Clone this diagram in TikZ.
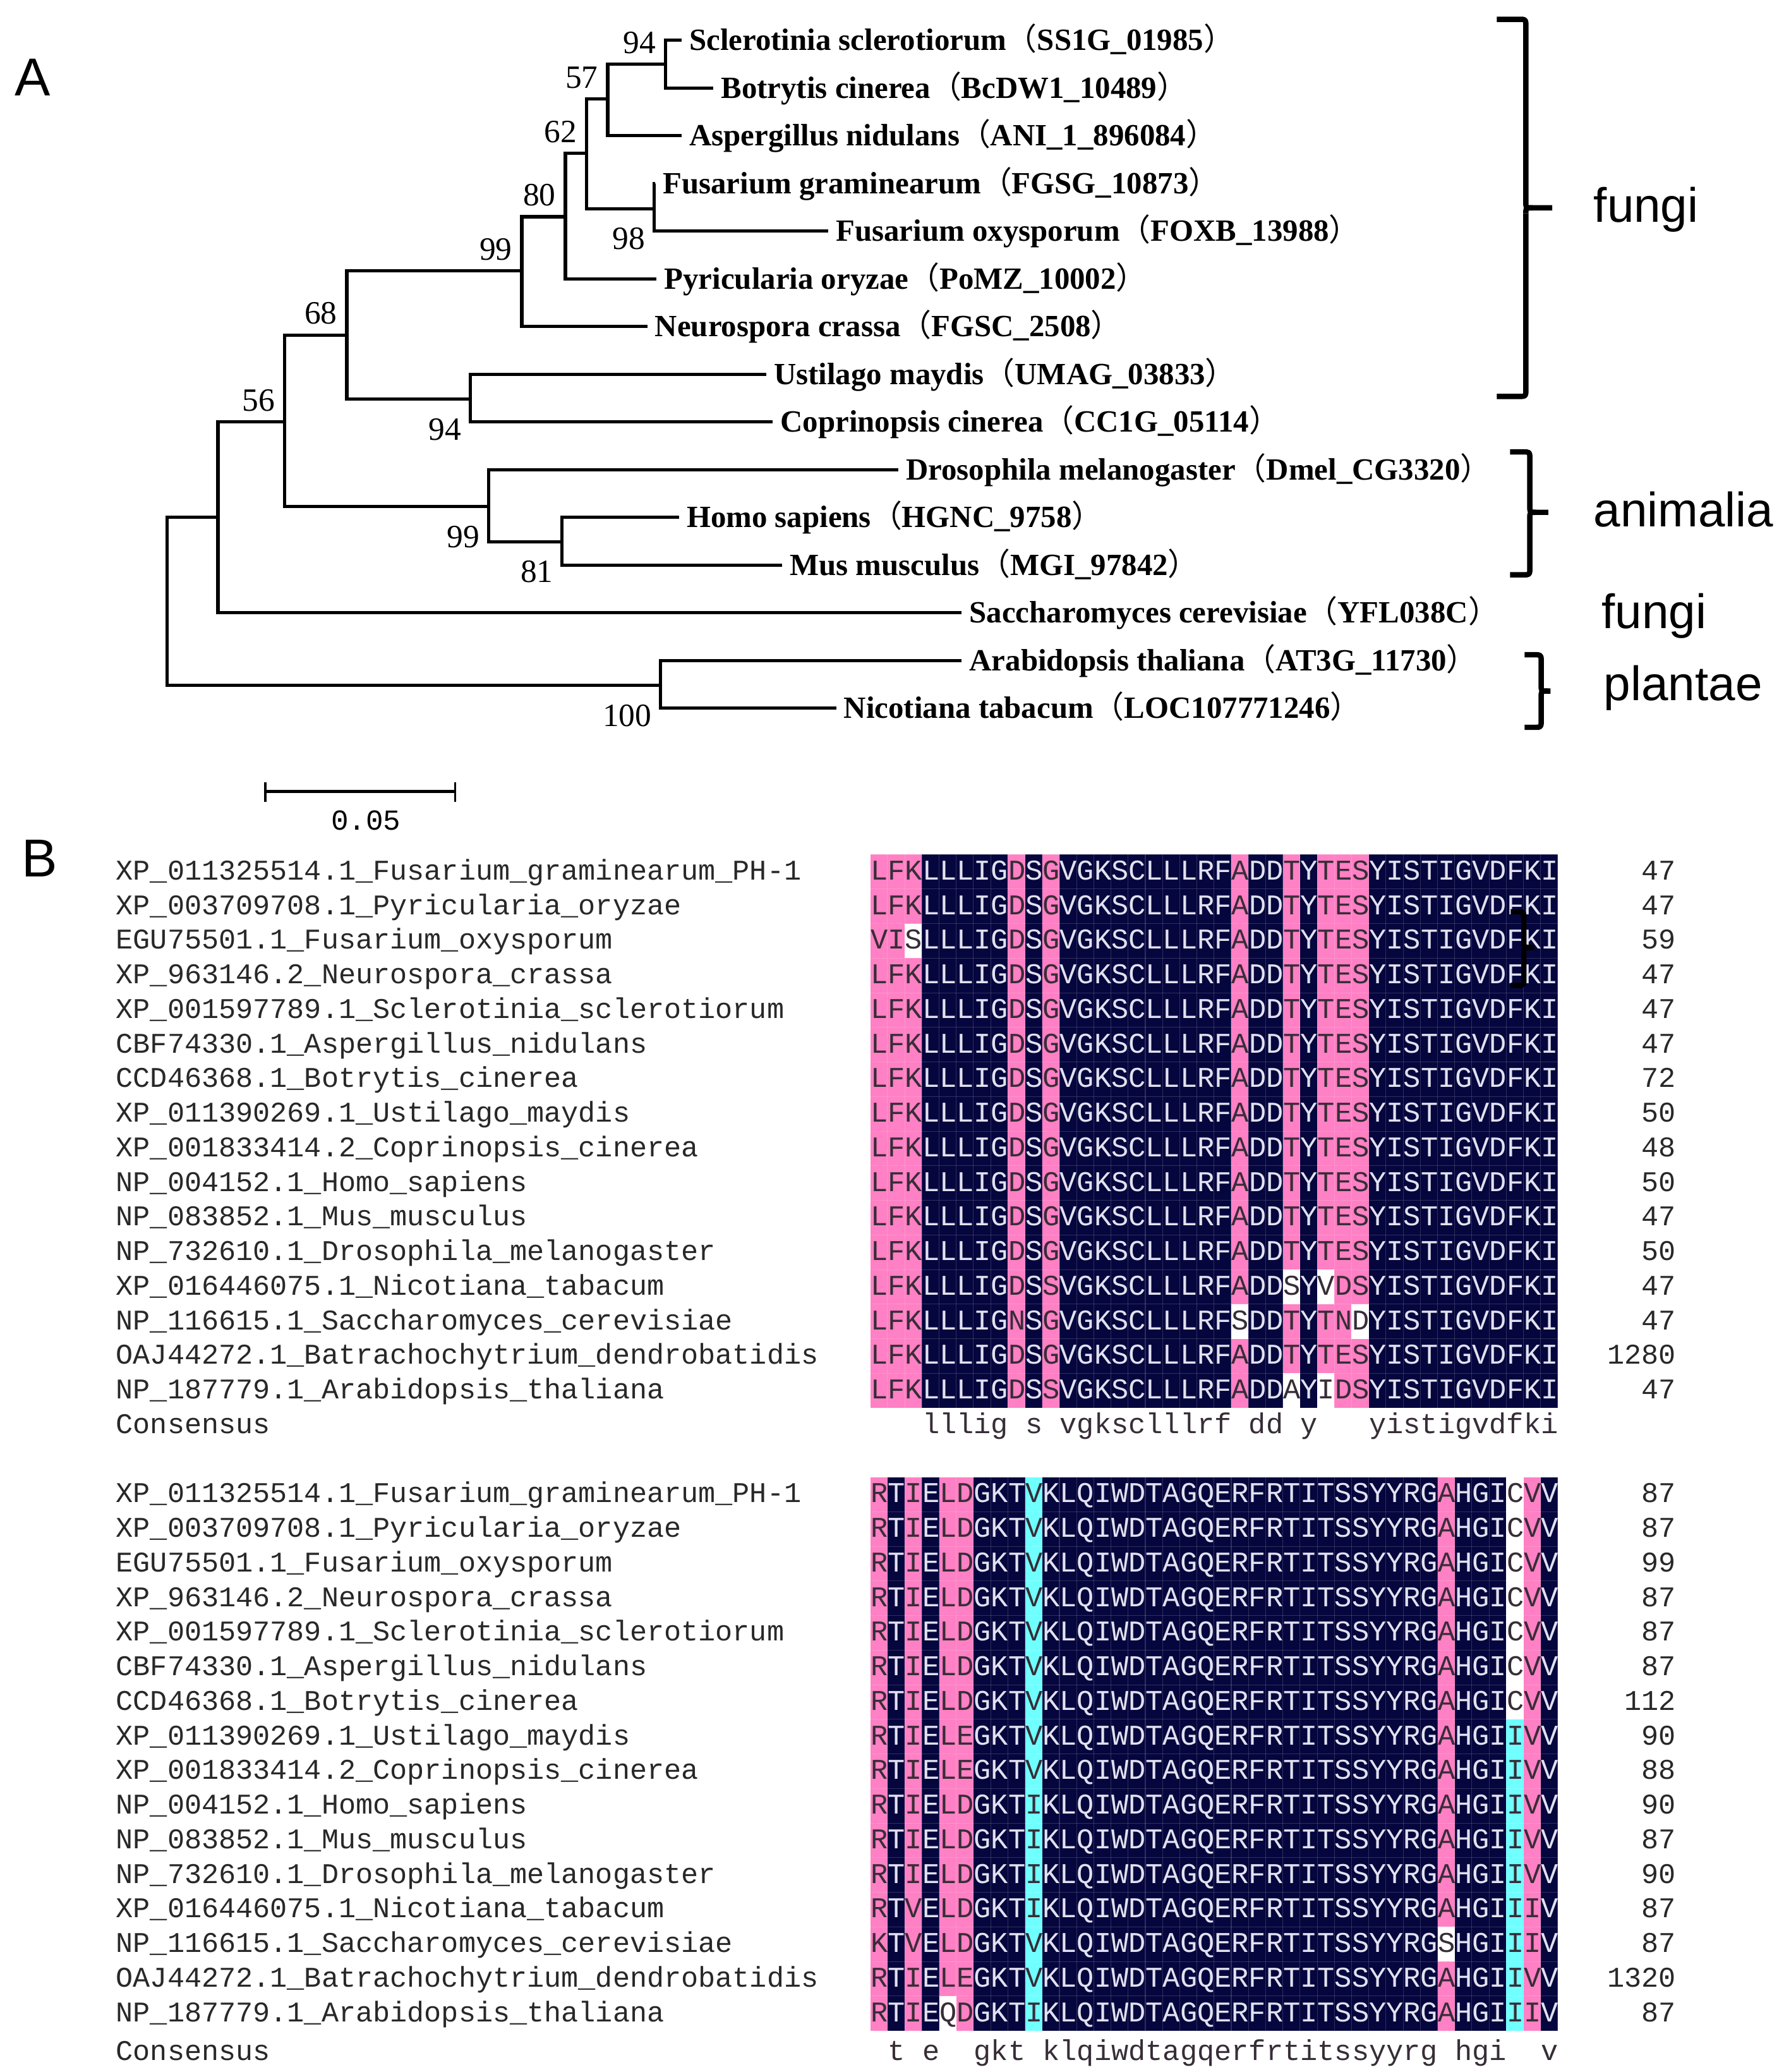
\documentclass[tikz,border=0pt]{standalone}
\usepackage{fontspec}
\setmainfont{Liberation Serif}
\newfontfamily\alfont{Liberation Mono}
\newfontfamily\grpfont{Liberation Sans}
\newfontfamily\cjk{Noto Sans CJK SC}
\definecolor{navybg}{RGB}{6,6,62}
\definecolor{pinkbg}{RGB}{255,128,196}
\definecolor{cyanbg}{RGB}{112,255,255}
\definecolor{inkdk}{RGB}{55,45,55}
\definecolor{inklt}{RGB}{225,225,240}
\definecolor{inkname}{RGB}{40,40,40}
\newcommand\lp{{\cjk\mdseries （}}
\newcommand\rp{{\cjk\mdseries ）}}
\newcommand\pk[1]{\textcolor{inkdk}{#1}}
\newcommand\nv[1]{\textcolor{inklt}{#1}}
\newcommand\sqA{\pk{LFK}\nv{LLLIG}\pk{D}\nv{S}\pk{G}\nv{VGKSCLLLRF}\pk{A}\nv{DD}\pk{T}\nv{Y}\pk{TES}\nv{YISTIGVDFKI}}
\newcommand\sqAfox{\pk{VIS}\nv{LLLIG}\pk{D}\nv{S}\pk{G}\nv{VGKSCLLLRF}\pk{A}\nv{DD}\pk{T}\nv{Y}\pk{TES}\nv{YISTIGVDFKI}}
\newcommand\sqAnic{\pk{LFK}\nv{LLLIG}\pk{D}\nv{S}\pk{S}\nv{VGKSCLLLRF}\pk{A}\nv{DD}\pk{S}\nv{Y}\pk{VDS}\nv{YISTIGVDFKI}}
\newcommand\sqAsac{\pk{LFK}\nv{LLLIG}\pk{N}\nv{S}\pk{G}\nv{VGKSCLLLRF}\pk{S}\nv{DD}\pk{T}\nv{Y}\pk{TND}\nv{YISTIGVDFKI}}
\newcommand\sqAara{\pk{LFK}\nv{LLLIG}\pk{D}\nv{S}\pk{S}\nv{VGKSCLLLRF}\pk{A}\nv{DD}\pk{A}\nv{Y}\pk{IDS}\nv{YISTIGVDFKI}}
\newcommand\mdB{\nv{KLQIWDTAGQERFRTITSSYYRG}}
\newcommand\sqB{\pk{R}\nv{T}\pk{I}\nv{E}\pk{LD}\nv{GKT}\pk{V}\mdB\pk{A}\nv{HGI}\pk{CV}\nv{V}}
\newcommand\sqBle{\pk{R}\nv{T}\pk{I}\nv{E}\pk{LE}\nv{GKT}\pk{V}\mdB\pk{A}\nv{HGI}\pk{IV}\nv{V}}
\newcommand\sqBan{\pk{R}\nv{T}\pk{I}\nv{E}\pk{LD}\nv{GKT}\pk{I}\mdB\pk{A}\nv{HGI}\pk{IV}\nv{V}}
\newcommand\sqBnic{\pk{R}\nv{T}\pk{V}\nv{E}\pk{LD}\nv{GKT}\pk{I}\mdB\pk{A}\nv{HGI}\pk{II}\nv{V}}
\newcommand\sqBsac{\pk{K}\nv{T}\pk{V}\nv{E}\pk{LD}\nv{GKT}\pk{V}\mdB\pk{S}\nv{HGI}\pk{II}\nv{V}}
\newcommand\sqBara{\pk{R}\nv{T}\pk{I}\nv{E}\pk{QD}\nv{GKT}\pk{I}\mdB\pk{A}\nv{HGI}\pk{II}\nv{V}}
\def\alx{658.8}
\def\cw{13.01}
\def\rh{26.18}
\def\topA{646.6}
\def\topB{1117.84}
\newcommand\band[6]{\fill[#1] ({\alx+\cw*(#2-1)},{#4+\rh*(#5-1)}) rectangle ({\alx+\cw*(#3)},{#4+\rh*(#6)});}
\newcommand\grpbrace[6]{\draw[brc] (#1,#4) -- ({#2-5},#4) .. controls (#2,#4) .. (#2,{#4+5}) -- (#2,{#5-4}) .. controls (#2,#5) .. ({#2+5},#5) -- (#3,#5);
  \draw[brc] (#2,{#5+4}) .. controls (#2,#5) .. ({#2+5},#5);
  \draw[brc] (#2,{#5+4}) -- (#2,{#6-5}) .. controls (#2,#6) .. ({#2-5},#6) -- (#1,#6);}
\begin{document}
\begin{tikzpicture}[x=0.02cm, y=-0.02cm,
  branch/.style={line width=1.4pt},
  leaf/.style={anchor=west, inner xsep=0.11cm, inner ysep=0pt, text height=8.8pt, text depth=0pt, font=\fontsize{13.3}{14}\selectfont\bfseries},
  boot/.style={inner sep=0pt, text height=9.4pt, text depth=0pt, font=\fontsize{14}{14}\selectfont},
  bsup/.style={boot, anchor=south east, xshift=-0.14cm, yshift=0.16cm},
  bsdn/.style={boot, anchor=north east, xshift=-0.13cm, yshift=-0.28cm},
  grp/.style={anchor=base west, inner sep=0pt, font=\grpfont\fontsize{20.8}{22}\selectfont},
  panel/.style={anchor=base west, inner sep=0pt, font=\grpfont\fontsize{23}{24}\selectfont},
  brc/.style={line width=2.3pt, line join=round},
  seqname/.style={anchor=west, inner sep=0pt, text height=7pt, text depth=0pt, text=inkname, font=\alfont\fontsize{12.3}{14}\selectfont},
  seqrow/.style={seqname, font=\alfont\fontsize{12.34}{14}\selectfont},
  seqlen/.style={seqname, anchor=east},
  gridln/.style={white, opacity=0.16, line width=0.3pt}]
\useasboundingbox (0,0) rectangle (1350,1568);

\node[panel] (pA) at (11,72.6) {A};
\node[panel] (pB) at (16,663.5) {B};

\coordinate (root) at (126.6,455);
\coordinate (nsa) at (165,391.4);
\coordinate (n56) at (215.5,319.3);
\coordinate (n68) at (262.5,253.5);
\coordinate (n99f) at (395,205);
\coordinate (n80) at (428,164);
\coordinate (n62) at (444,116);
\coordinate (n57) at (460,75);
\coordinate (n94f) at (503.6,48.7);
\coordinate (n98) at (495,158);
\coordinate (n94b) at (356,302);
\coordinate (n99a) at (370,383.3);
\coordinate (n81) at (425.5,410);
\coordinate (n100) at (500,518.7);

\node[leaf] (scl) at (516,30.5) {Sclerotinia sclerotiorum\lp SS1G\_01985\rp};
\node[leaf] (bot) at (540,66.6) {Botrytis cinerea\lp BcDW1\_10489\rp};
\node[leaf] (asp) at (516,102.7) {Aspergillus nidulans\lp ANI\_1\_896084\rp};
\node[leaf] (fgr) at (496,138.8) {Fusarium graminearum\lp FGSG\_10873\rp};
\node[leaf] (fox) at (627,174.9) {Fusarium oxysporum\lp FOXB\_13988\rp};
\node[leaf] (pyr) at (497,211) {Pyricularia oryzae\lp PoMZ\_10002\rp};
\node[leaf] (neu) at (490,247.1) {Neurospora crassa\lp FGSC\_2508\rp};
\node[leaf] (ust) at (580,283.2) {Ustilago maydis\lp UMAG\_03833\rp};
\node[leaf] (cop) at (585,319.3) {Coprinopsis cinerea\lp CC1G\_05114\rp};
\node[leaf] (dro) at (680,355.4) {Drosophila melanogaster\lp Dmel\_CG3320\rp};
\node[leaf] (hom) at (514,391.5) {Homo sapiens\lp HGNC\_9758\rp};
\node[leaf] (mus) at (592,427.6) {Mus musculus\lp MGI\_97842\rp};
\node[leaf] (sac) at (728,463.7) {Saccharomyces cerevisiae\lp YFL038C\rp};
\node[leaf] (ara) at (728,499.8) {Arabidopsis thaliana\lp AT3G\_11730\rp};
\node[leaf] (nic) at (633,535.9) {Nicotiana tabacum\lp LOC107771246\rp};

\foreach \p/\c in {root/nsa, root/n100, nsa/n56, nsa/sac, n56/n68, n56/n99a,
    n68/n99f, n68/n94b, n99f/n80, n99f/neu, n80/n62, n80/pyr, n62/n57, n62/n98,
    n57/n94f, n57/asp, n94f/scl, n94f/bot, n98/fgr, n98/fox, n94b/ust, n94b/cop,
    n99a/dro, n99a/n81, n81/hom, n81/mus, n100/ara, n100/nic}
  \draw[branch] (\p) |- (\c);

\node[bsup] (b94a) at (n94f) {94};
\node[bsup] (b57) at (n57) {57};
\node[bsup] (b62) at (n62) {62};
\node[bsup] (b80) at (n80) {80};
\node[bsup] (b99f) at (n99f) {99};
\node[bsup] (b68) at (n68) {68};
\node[bsup] (b56) at (n56) {56};
\node[bsdn] (b98) at (n98) {98};
\node[bsdn] (b94b) at (n94b) {94};
\node[bsdn] (b99a) at (n99a) {99};
\node[bsdn] (b81) at (n81) {81};
\node[bsdn] (b100) at (n100) {100};

\coordinate (sbl) at (200.7,598.8);
\coordinate (sbr) at (344.5,598.8);
\draw[branch] (sbl) -- (sbr);
\draw[line width=1pt] ([yshift=0.14cm]sbl) -- ([yshift=-0.16cm]sbl);
\draw[line width=1pt] ([yshift=0.14cm]sbr) -- ([yshift=-0.16cm]sbr);
\node[inner sep=0pt, font=\alfont\fontsize{12.5}{14}\selectfont] (sblab) at (277,621) {0.05};

\grpbrace{1133}{1155}{1175}{14.6}{157.3}{300}
\grpbrace{1143}{1158}{1172}{342}{387.7}{435}
\grpbrace{1154}{1166.6}{1173.6}{495.5}{523}{550.4}
\node[grp] (gfun) at (1206,168.2) {fungi};
\node[grp] (gani) at (1206,398.6) {animalia};
\node[grp] (gfun2) at (1212,475.5) {fungi};
\node[grp] (gpla) at (1213.7,530.3) {plantae};

\band{navybg}{1}{40}{\topA}{1}{16}
\foreach \ca/\cb in {1/3, 9/9, 11/11, 22/22, 25/25, 27/29}
  {\band{pinkbg}{\ca}{\cb}{\topA}{1}{16}}
\band{white}{3}{3}{\topA}{3}{3}
\band{white}{25}{25}{\topA}{13}{13}
\band{white}{27}{27}{\topA}{13}{13}
\band{white}{22}{22}{\topA}{14}{14}
\band{white}{29}{29}{\topA}{14}{14}
\band{white}{25}{25}{\topA}{16}{16}
\band{white}{27}{27}{\topA}{16}{16}

\band{navybg}{1}{40}{\topB}{1}{16}
\foreach \ca/\cb in {1/1, 3/3, 5/6, 34/34, 39/39}
  {\band{pinkbg}{\ca}{\cb}{\topB}{1}{16}}
\band{cyanbg}{10}{10}{\topB}{1}{16}
\band{white}{38}{38}{\topB}{1}{7}
\band{cyanbg}{38}{38}{\topB}{8}{16}
\band{white}{34}{34}{\topB}{14}{14}
\band{white}{5}{5}{\topB}{16}{16}

\foreach \tp in {\topA,\topB} {
  \foreach \k in {0,...,40}
    \draw[gridln] ({\alx+\cw*\k},\tp) -- ({\alx+\cw*\k},{\tp+16*\rh});
  \foreach \k in {0,...,16}
    \draw[gridln] (\alx,{\tp+\rh*\k}) -- ({\alx+40*\cw},{\tp+\rh*\k});
}

\foreach \nm/\sqa/\lna/\sqb/\lnb [count=\i] in {
  {XP\_011325514.1\_Fusarium\_graminearum\_PH-1}/\sqA/47/\sqB/87,
  {XP\_003709708.1\_Pyricularia\_oryzae}/\sqA/47/\sqB/87,
  {EGU75501.1\_Fusarium\_oxysporum}/\sqAfox/59/\sqB/99,
  {XP\_963146.2\_Neurospora\_crassa}/\sqA/47/\sqB/87,
  {XP\_001597789.1\_Sclerotinia\_sclerotiorum}/\sqA/47/\sqB/87,
  {CBF74330.1\_Aspergillus\_nidulans}/\sqA/47/\sqB/87,
  {CCD46368.1\_Botrytis\_cinerea}/\sqA/72/\sqB/112,
  {XP\_011390269.1\_Ustilago\_maydis}/\sqA/50/\sqBle/90,
  {XP\_001833414.2\_Coprinopsis\_cinerea}/\sqA/48/\sqBle/88,
  {NP\_004152.1\_Homo\_sapiens}/\sqA/50/\sqBan/90,
  {NP\_083852.1\_Mus\_musculus}/\sqA/47/\sqBan/87,
  {NP\_732610.1\_Drosophila\_melanogaster}/\sqA/50/\sqBan/90,
  {XP\_016446075.1\_Nicotiana\_tabacum}/\sqAnic/47/\sqBnic/87,
  {NP\_116615.1\_Saccharomyces\_cerevisiae}/\sqAsac/47/\sqBsac/87,
  {OAJ44272.1\_Batrachochytrium\_dendrobatidis}/\sqA/1280/\sqBle/1320,
  {NP\_187779.1\_Arabidopsis\_thaliana}/\sqAara/47/\sqBara/87} {
  \node[seqname] (nmA\i) at (87.5,{\topA+\rh*(\i-0.5)}) {\nm};
  \node[seqrow] (sqA\i) at (\alx,{\topA+\rh*(\i-0.5)}) {\sqa};
  \node[seqlen] (lnA\i) at (1269,{\topA+\rh*(\i-0.5)}) {\lna};
  \node[seqname] (nmB\i) at (87.5,{\topB+\rh*(\i-0.5)}) {\nm};
  \node[seqrow] (sqB\i) at (\alx,{\topB+\rh*(\i-0.5)}) {\sqb};
  \node[seqlen] (lnB\i) at (1269,{\topB+\rh*(\i-0.5)}) {\lnb};
}
\node[seqname] (conA) at (87.5,{\topA+\rh*16.5}) {Consensus};
\node[seqrow, text=inkdk] (csA) at (\alx,{\topA+\rh*16.5}) {~~~lllig~s~vgksclllrf~dd~y~~~yistigvdfki};
\node[seqname] (conB) at (87.5,{\topB+\rh*16.5+3}) {Consensus};
\node[seqrow, text=inkdk] (csB) at (\alx,{\topB+\rh*16.5+3}) {~t~e~~gkt~klqiwdtagqerfrtitssyyrg~hgi~~v};

\grpbrace{1143.5}{1153.5}{1161.4}{690}{717}{745.7}
\end{tikzpicture}
\end{document}
